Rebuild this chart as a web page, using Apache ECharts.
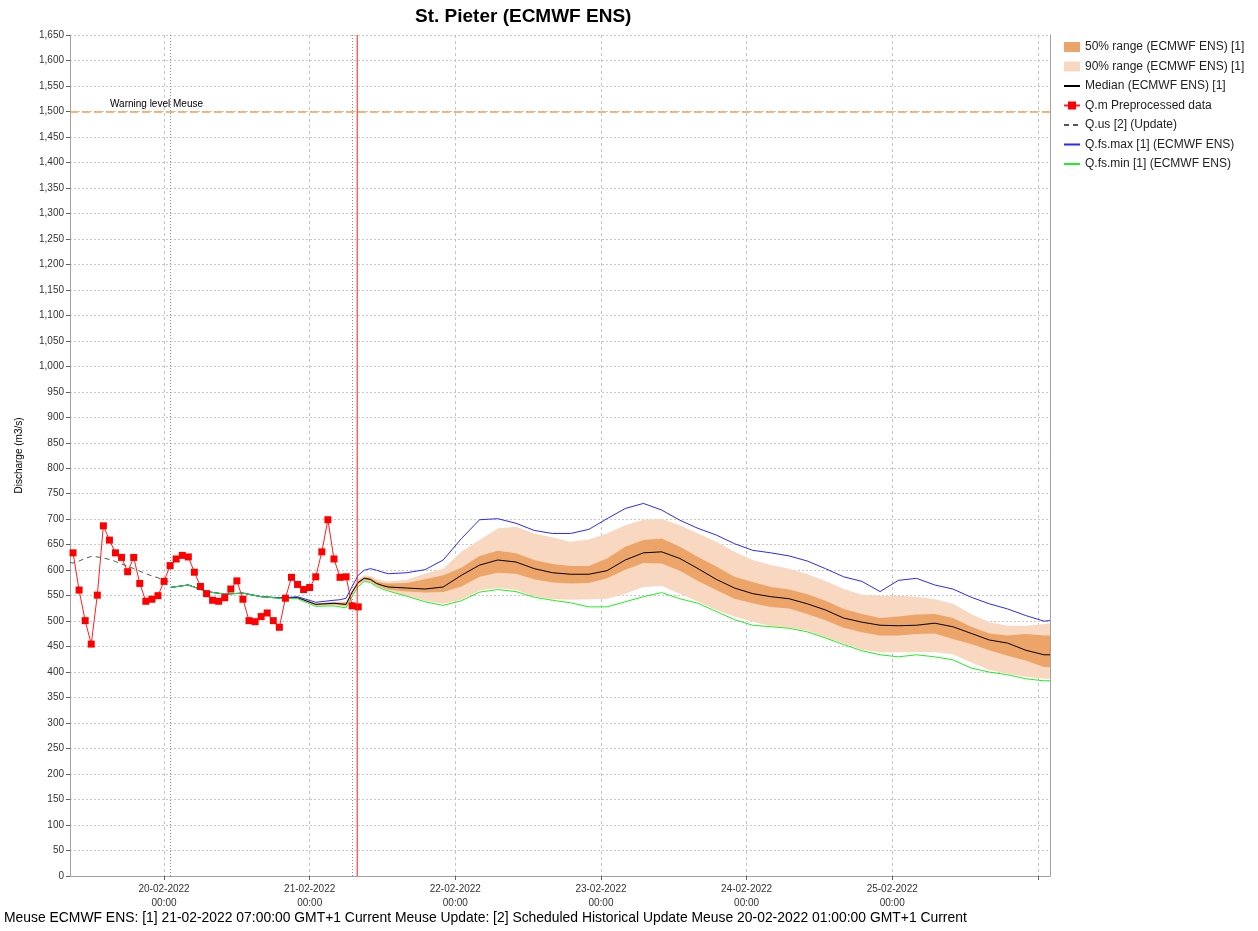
<!DOCTYPE html>
<html>
<head>
<meta charset="utf-8">
<title>St. Pieter (ECMWF ENS)</title>
<script src="https://cdn.jsdelivr.net/npm/echarts@6/dist/echarts.min.js"></script>
<style>
html, body { margin: 0; padding: 0; background: #fff; }
#chart { width: 1258px; height: 931px; }
</style>
</head>
<body>
<div id="chart"></div>
<script>
// all times are hours counted from 20-02-2022 00:00 (GMT+1)
var axisStart = -15.5;
var axisEnd = 146;

// Q.m Preprocessed data (hourly, 19-02 09:00 .. 21-02 08:00)
var obsHours = [-15, -14, -13, -12, -11, -10, -9, -8, -7, -6, -5, -4, -3, -2, -1, 0,
  1, 2, 3, 4, 5, 6, 7, 8, 9, 10, 11, 12, 13, 14, 15, 16, 17, 18, 19, 20, 21, 22, 23, 24,
  25, 26, 27, 28, 29, 30, 31, 32];
var obsValues = [634, 561, 501, 455, 551, 687, 659, 634, 625, 597, 625, 574, 539, 543, 550, 578,
  609, 622, 629, 626, 596, 568, 554, 541, 539, 546, 563, 579, 543, 501, 499, 509, 516, 501, 488, 545,
  586, 572, 562, 566, 587, 636, 699, 622, 586, 587, 530, 528];

// Q.us [2] (Update)
var updHours = [-15.5, -15, -14, -13, -12, -11, -10, -9, -8, -7, -6, -5, -4, -3, -2, -1, 0, 1];
var updValues = [615, 614, 618, 623, 627, 626, 624, 621, 617, 612, 608, 603, 598, 593, 589, 585, 580, 577];

// ECMWF ENS [1]
var fcHours = [1, 4, 7, 10, 13, 16, 19, 22, 25, 28, 29, 30, 31, 32, 33, 34, 35, 36, 37, 40, 43, 46, 49,
  52, 55, 58, 61, 64, 67, 70, 73, 76, 79, 82, 85, 88, 91, 94, 97, 100, 103, 106, 109, 112, 115,
  118, 121, 124, 127, 130, 133, 136, 139, 142, 145, 146];
var fsMax = [566, 571, 558, 553, 555, 548, 545, 548, 537, 541, 542, 545, 568, 590, 600, 603, 600, 596, 593, 595, 601, 620, 662,
  699, 701, 692, 678, 672, 672, 680, 701, 721, 731, 718, 698, 682, 669, 652, 639, 634, 628, 618, 603, 587, 578,
  558, 580, 584, 571, 563, 547, 534, 524, 511, 500, 501];
var q95 = [566, 571, 558, 553, 555, 548, 546, 547, 535, 538, 538, 539, 562, 582, 590, 589, 583, 580, 578, 581, 593, 603, 636,
  659, 682, 685, 672, 664, 656, 660, 672, 688, 699, 701, 688, 672, 656, 636, 620, 610, 603, 592, 579, 563, 552,
  550, 550, 548, 543, 534, 514, 498, 491, 491, 494, 496];
var q75 = [566, 571, 558, 553, 555, 548, 546, 547, 534, 537, 536, 536, 560, 579, 587, 585, 578, 575, 574, 575, 582, 590, 605,
  628, 638, 633, 620, 612, 608, 608, 623, 646, 659, 662, 646, 626, 607, 587, 577, 567, 562, 553, 540, 524, 514,
  506, 509, 513, 514, 506, 489, 476, 472, 475, 472, 472];
var median = [566, 571, 558, 553, 555, 548, 546, 546, 533, 535, 534, 533, 557, 576, 584, 582, 574, 570, 567, 565, 563, 567, 590,
  610, 620, 616, 603, 595, 592, 592, 599, 620, 634, 636, 623, 603, 582, 565, 554, 548, 544, 534, 522, 506, 498,
  492, 491, 492, 496, 489, 476, 463, 457, 443, 434, 434];
var q25 = [566, 571, 558, 553, 555, 548, 545, 545, 531, 533, 531, 530, 554, 573, 581, 579, 571, 566, 562, 558, 556, 557, 568,
  587, 595, 593, 582, 576, 574, 575, 584, 601, 614, 613, 599, 579, 561, 544, 535, 528, 525, 514, 502, 487, 478,
  472, 472, 475, 476, 465, 455, 443, 432, 423, 410, 410];
var q5 = [566, 571, 558, 553, 555, 548, 545, 545, 530, 531, 530, 528, 551, 570, 579, 577, 569, 564, 560, 550, 540, 534, 542,
  560, 565, 561, 549, 543, 542, 543, 544, 554, 567, 569, 554, 538, 522, 509, 499, 490, 487, 481, 468, 456, 444,
  439, 439, 439, 439, 435, 419, 404, 397, 391, 387, 387];
var fsMin = [566, 571, 558, 553, 555, 548, 545, 544, 529, 530, 528, 526, 549, 568, 578, 576, 568, 563, 559, 549, 538, 531, 540,
  557, 562, 558, 547, 541, 536, 528, 528, 538, 548, 556, 544, 535, 519, 503, 492, 489, 486, 479, 467, 454, 442,
  434, 430, 434, 430, 424, 408, 400, 395, 387, 383, 383];

var warningLevel = 1500;
var updateHour = 1;      // [2] 20-02-2022 01:00
var forecastHour = 31;   // [1] 21-02-2022 07:00
var nowHour = 31.83;     // current time marker

var yMin = 0, yMax = 1650, yStep = 50;

var n50 = '50% range (ECMWF ENS) [1]';
var n90 = '90% range (ECMWF ENS) [1]';
var nMed = 'Median (ECMWF ENS) [1]';
var nObs = 'Q.m Preprocessed data';
var nUpd = 'Q.us [2] (Update)';
var nMax = 'Q.fs.max [1] (ECMWF ENS)';
var nMin = 'Q.fs.min [1] (ECMWF ENS)';

var base = new Date(2022, 1, 20, 0, 0, 0).getTime();
function toTime(h) {
  return base + h * 3600000;
}
function pairs(hours, values) {
  var res = [];
  for (var i = 0; i < hours.length; i++) {
    res.push([toTime(hours[i]), values[i]]);
  }
  return res;
}
function spread(top, bottom) {
  var res = [];
  for (var i = 0; i < top.length; i++) {
    res.push(top[i] - bottom[i]);
  }
  return res;
}
function pad(n) {
  return (n < 10 ? '0' : '') + n;
}

var font = 'Liberation Sans, Arial, sans-serif';
var chart = echarts.init(document.getElementById('chart'));

var hidden = {
  type: 'line', showSymbol: false, symbol: 'none', silent: true,
  lineStyle: { opacity: 0 }, z: 1
};
// legend entries for plain lines: keep the line, hide the marker
var noMarker = { opacity: 0, color: 'rgba(0,0,0,0)', borderWidth: 0 };

var option = {
  animation: false,
  backgroundColor: '#fff',
  title: [
    {
      text: 'St. Pieter (ECMWF ENS)', left: 415, top: 7, padding: 0,
      textStyle: { fontSize: 19, fontWeight: 'bold', fontFamily: font, color: '#000' }
    },
    {
      text: 'Meuse ECMWF ENS: [1] 21-02-2022 07:00:00 GMT+1 Current Meuse Update: [2] Scheduled Historical Update Meuse 20-02-2022 01:00:00 GMT+1 Current',
      left: 4, top: 911, padding: 0,
      textStyle: { fontSize: 13.9, fontWeight: 'normal', fontFamily: font, color: '#000' }
    }
  ],
  legend: {
    orient: 'vertical',
    left: 1063,
    top: 40,
    padding: 0,
    itemWidth: 16,
    itemHeight: 10,
    itemGap: 5.5,
    textStyle: { fontSize: 12, fontFamily: font, color: '#222', lineHeight: 14 },
    data: [
      { name: n50, icon: 'rect' },
      { name: n90, icon: 'rect' },
      { name: nMed, itemStyle: noMarker },
      { name: nObs },
      { name: nUpd, itemStyle: noMarker },
      { name: nMax, itemStyle: noMarker },
      { name: nMin, itemStyle: noMarker }
    ]
  },
  grid: { left: 70, right: 208, top: 35, bottom: 55 },
  xAxis: {
    type: 'time',
    min: toTime(axisStart),
    max: toTime(axisEnd),
    splitNumber: 7,
    minInterval: 86400000,
    maxInterval: 86400000,
    axisLine: { lineStyle: { color: '#a0a0a0' } },
    axisTick: { show: true, length: 4, lineStyle: { color: '#606060' } },
    axisLabel: {
      fontSize: 10, fontFamily: font, color: '#333', lineHeight: 14, margin: 6,
      formatter: function (v) {
        var d = new Date(v);
        if (d.getDate() == 26) return '';
        return pad(d.getDate()) + '-' + pad(d.getMonth() + 1) + '-' + d.getFullYear() + '\n' +
          pad(d.getHours()) + ':' + pad(d.getMinutes());
      }
    },
    splitLine: { show: true, lineStyle: { color: '#c4c4c4', type: [3, 3] } }
  },
  yAxis: [
    {
      type: 'value',
      min: yMin, max: yMax, interval: yStep,
      name: 'Discharge (m3/s)',
      nameLocation: 'middle',
      nameGap: 46,
      nameTextStyle: { fontSize: 10, fontFamily: font, color: '#000' },
      axisLine: { show: true, lineStyle: { color: '#a0a0a0' } },
      axisTick: { show: true, length: 4, lineStyle: { color: '#606060' } },
      axisLabel: {
        fontSize: 10, fontFamily: font, color: '#333', margin: 6,
        formatter: function (v) { return v.toLocaleString('en-US'); }
      },
      splitLine: { show: true, lineStyle: { color: '#c8c8c8', type: [2, 2] } }
    },
    {
      type: 'value', position: 'right',
      min: yMin, max: yMax, interval: yStep,
      axisLine: { show: true, lineStyle: { color: '#a0a0a0' } },
      axisTick: { show: false }, axisLabel: { show: false }, splitLine: { show: false }
    }
  ],
  series: [
    Object.assign({}, hidden, { name: 'p5', stack: 'r90', data: pairs(fcHours, q5) }),
    {
      name: n90, type: 'line', stack: 'r90', showSymbol: false, symbol: 'none', z: 1,
      color: '#f8d8c0',
      lineStyle: { width: 0 },
      areaStyle: { color: '#f8d8c0', opacity: 1 },
      data: pairs(fcHours, spread(q95, q5))
    },
    Object.assign({}, hidden, { name: 'p25', stack: 'r50', z: 2, data: pairs(fcHours, q25) }),
    {
      name: n50, type: 'line', stack: 'r50', showSymbol: false, symbol: 'none', z: 2,
      color: '#eca468',
      lineStyle: { width: 0 },
      areaStyle: { color: '#eca468', opacity: 1 },
      data: pairs(fcHours, spread(q75, q25))
    },
    {
      name: nMed, type: 'line', showSymbol: false, symbol: 'none', z: 3,
      color: '#000',
      lineStyle: { color: '#000', width: 1 },
      data: pairs(fcHours, median)
    },
    {
      name: nMax, type: 'line', showSymbol: false, symbol: 'none', z: 3,
      color: '#2a2aff',
      lineStyle: { color: '#2a2aff', width: 1 },
      data: pairs(fcHours, fsMax)
    },
    {
      name: nMin, type: 'line', showSymbol: false, symbol: 'none', z: 3,
      color: '#22ee22',
      lineStyle: { color: '#22ee22', width: 1 },
      data: pairs(fcHours, fsMin),
      markLine: {
        silent: true,
        symbol: ['none', 'none'],
        animation: false,
        label: { show: false },
        lineStyle: { color: '#909090', type: [1, 2], width: 1 },
        data: [
          { xAxis: toTime(updateHour) },
          { xAxis: toTime(forecastHour) }
        ]
      }
    },
    {
      name: nUpd, type: 'line', showSymbol: false, symbol: 'none', z: 4,
      color: '#4e5a4e',
      lineStyle: { color: '#4e5a4e', width: 1, type: [5, 4] },
      data: pairs(updHours, updValues),
      markLine: {
        silent: true,
        symbol: ['none', 'none'],
        animation: false,
        lineStyle: { color: '#f5a050', type: [8, 4], width: 1.5 },
        label: {
          show: true, formatter: 'Warning level Meuse', position: 'insideStartTop',
          distance: [40, 2], color: '#000', fontSize: 10, fontFamily: font
        },
        data: [{ yAxis: warningLevel }]
      }
    },
    {
      name: nObs, type: 'line', symbol: 'rect', symbolSize: 7, showSymbol: true, showAllSymbol: true, z: 5,
      color: '#ff0000',
      itemStyle: { color: '#ff0000' },
      lineStyle: { color: '#ff2020', width: 1 },
      data: pairs(obsHours, obsValues)
    },
    {
      // current time marker, spans the whole value axis
      name: 'now', type: 'line', showSymbol: false, symbol: 'none', silent: true, z: 6,
      color: '#ff1a1a',
      lineStyle: { color: '#ff1a1a', width: 1 },
      data: [[toTime(nowHour), yMin], [toTime(nowHour), yMax]]
    }
  ]
};

chart.setOption(option);
</script>
</body>
</html>
